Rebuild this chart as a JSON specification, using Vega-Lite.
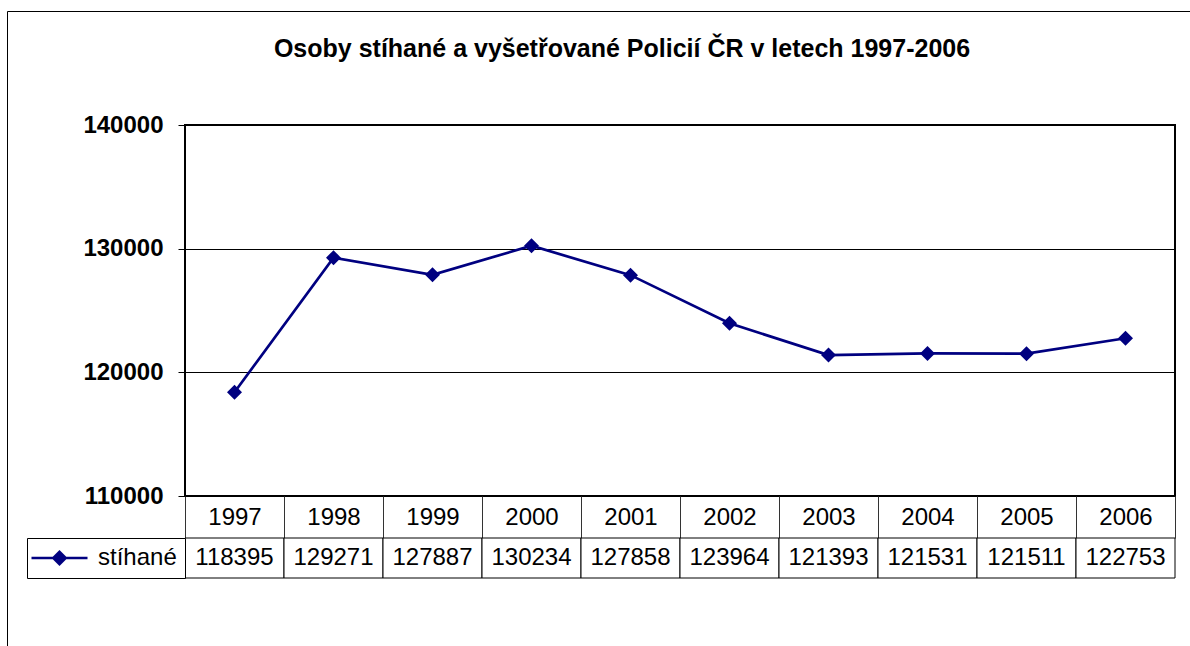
{
  "$schema": "https://vega.github.io/schema/vega-lite/v6.json",
  "background": "white",
  "padding": {"left": 7, "top": 11, "right": 0, "bottom": 0},
  "autosize": {"type": "pad"},
  "title": {
    "text": "Osoby stíhané a vyšetřované Policií ČR v letech 1997-2006",
    "font": "Liberation Sans",
    "fontSize": 25,
    "fontWeight": "bold",
    "color": "black",
    "anchor": "middle",
    "baseline": "alphabetic",
    "offset": -70,
    "dx": -5
  },
  "datasets": {
    "stihane": [
      {"year": "1997", "value": 118395, "series": "stíhané"},
      {"year": "1998", "value": 129271, "series": "stíhané"},
      {"year": "1999", "value": 127887, "series": "stíhané"},
      {"year": "2000", "value": 130234, "series": "stíhané"},
      {"year": "2001", "value": 127858, "series": "stíhané"},
      {"year": "2002", "value": 123964, "series": "stíhané"},
      {"year": "2003", "value": 121393, "series": "stíhané"},
      {"year": "2004", "value": 121531, "series": "stíhané"},
      {"year": "2005", "value": 121511, "series": "stíhané"},
      {"year": "2006", "value": 122753, "series": "stíhané"}
    ]
  },
  "bounds": "flush",
  "spacing": 42,
  "center": false,
  "vconcat": [
    {
      "width": 990,
      "height": 371,
      "view": {"stroke": "black", "strokeWidth": 2},
      "data": {"name": "stihane"},
      "encoding": {
        "x": {
          "field": "year",
          "type": "ordinal",
          "bandPosition": 0.5,
          "scale": {"type": "band", "paddingInner": 0, "paddingOuter": 0},
          "axis": {
            "title": null,
            "orient": "bottom",
            "domain": false,
            "grid": false,
            "tickBand": "extent",
            "tickSize": 42,
            "tickColor": "#333333",
            "tickWidth": 1,
            "labelAngle": 0,
            "labelFont": "Liberation Sans",
            "labelFontSize": 24,
            "labelColor": "black",
            "labelBaseline": "middle",
            "labelPadding": -21
          }
        },
        "y": {
          "field": "value",
          "type": "quantitative",
          "scale": {"domain": [110000, 140000], "nice": false, "zero": false},
          "axis": {
            "title": null,
            "values": [110000, 120000, 130000, 140000],
            "format": "d",
            "domain": false,
            "grid": true,
            "gridColor": "black",
            "gridWidth": 1,
            "gridOpacity": 1,
            "tickSize": 7,
            "tickColor": "black",
            "tickWidth": 1,
            "labelFont": "Liberation Sans",
            "labelFontSize": 24,
            "labelFontWeight": "bold",
            "labelColor": "black",
            "labelPadding": 15
          }
        }
      },
      "layer": [
        {
          "mark": {"type": "line", "color": "#000080", "strokeWidth": 2.7}
        },
        {
          "mark": {"type": "point", "shape": "diamond", "filled": true, "size": 225, "opacity": 1, "color": "#000080"}
        },
        {
          "mark": {"type": "point", "filled": true, "opacity": 0},
          "encoding": {
            "color": {
              "field": "value",
              "type": "quantitative",
              "scale": {"range": ["rgba(255,255,255,0)", "rgba(255,255,255,0)"]},
              "legend": {
                "type": "gradient",
                "orient": "none",
                "direction": "vertical",
                "legendX": -177.5,
                "legendY": -113.5,
                "padding": 0,
                "title": null,
                "labels": false,
                "gradientLength": 650,
                "gradientThickness": 1200,
                "gradientStrokeColor": "black",
                "gradientStrokeWidth": 1,
                "gradientOpacity": 1
              }
            }
          }
        }
      ]
    },
    {
      "width": 990,
      "height": 40,
      "view": {"stroke": null},
      "data": {"name": "stihane"},
      "encoding": {
        "x": {
          "field": "year",
          "type": "ordinal",
          "scale": {"type": "band", "paddingInner": 0, "paddingOuter": 0},
          "axis": null
        }
      },
      "layer": [
        {
          "mark": {"type": "rect", "fill": "white", "stroke": "black", "strokeWidth": 1}
        },
        {
          "mark": {"type": "point", "filled": true, "color": "#000080", "opacity": 0},
          "encoding": {
            "shape": {
              "field": "series",
              "type": "nominal",
              "scale": {"range": ["M-3.5,-0.16H3.5V0.16H-3.5ZM0,-1L1,0L0,1L-1,0Z"]},
              "legend": {
                "orient": "left",
                "offset": 0,
                "padding": 8,
                "strokeColor": "black",
                "fillColor": "white",
                "title": null,
                "symbolSize": 256,
                "symbolOpacity": 1,
                "symbolFillColor": "#000080",
                "symbolStrokeWidth": 0,
                "symbolOffset": 12.5,
                "labelOffset": 26.5,
                "labelFont": "Liberation Sans",
                "labelFontSize": 24,
                "labelColor": "black",
                "labelBaseline": "middle"
              }
            }
          }
        },
        {
          "mark": {"type": "text", "font": "Liberation Sans", "fontSize": 24, "color": "black", "baseline": "middle", "align": "center"},
          "encoding": {
            "text": {"field": "value", "type": "quantitative", "format": "d"}
          }
        }
      ]
    }
  ],
  "resolve": {
    "scale": {"x": "independent", "shape": "independent"},
    "legend": {"shape": "independent"}
  }
}
